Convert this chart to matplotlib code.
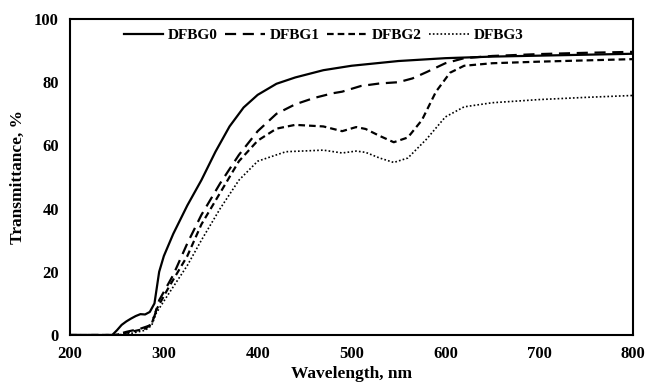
import matplotlib
matplotlib.use("Agg")
import matplotlib.pyplot as plt

# wavelength (nm) and transmittance (%)
wl0 = [200, 245, 250, 255, 260, 265, 270, 275, 280, 285, 290, 295, 300, 310, 325, 340, 355,
       370, 385, 400, 420, 440, 470, 500, 550, 600, 650, 700, 750, 800]
t0 = [0, 0, 1.5, 3.2, 4.3, 5.2, 6.0, 6.6, 6.5, 7.3, 10, 20, 25, 32, 41, 49, 58,
      66, 72, 76, 79.5, 81.5, 83.8, 85.2, 86.7, 87.6, 88.1, 88.4, 88.7, 89.0]

wl1 = [200, 248, 260, 275, 285, 290, 295, 310, 325, 340, 360, 380, 400, 420, 440, 460,
       480, 490, 510, 530, 550, 565, 580, 600, 620, 650, 700, 750, 800]
t1 = [0, 0, 1.0, 2.0, 3.0, 6, 11, 19, 29, 38, 48, 57, 64.5, 70, 73, 75,
      76.5, 77, 78.8, 79.6, 80, 81.2, 83.2, 86, 87.6, 88.3, 88.9, 89.3, 89.6]

wl2 = [200, 248, 265, 280, 287, 292, 305, 325, 340, 360, 380, 400, 420, 440, 470,
       490, 505, 515, 530, 545, 560, 575, 590, 605, 620, 650, 700, 750, 800]
t2 = [0, 0, 1.0, 2.0, 3.5, 8, 15, 25, 35, 45, 55, 61.5, 65.3, 66.5, 66.0,
      64.5, 65.8, 65.2, 63, 61, 62.5, 68, 77, 83, 85.2, 86, 86.5, 86.9, 87.3]

wl3 = [200, 250, 265, 280, 287, 292, 305, 325, 340, 360, 380, 400, 430, 470,
       490, 505, 515, 530, 545, 560, 580, 600, 620, 650, 700, 750, 800]
t3 = [0, 0, 0.5, 1.5, 3, 7, 13, 22, 30, 40, 49, 55, 58, 58.5,
      57.6, 58.2, 57.8, 56, 54.6, 56, 62, 69, 72.2, 73.5, 74.5, 75.2, 75.8]

series_labels = ["DFBG0", "DFBG1", "DFBG2", "DFBG3"]

plt.rcParams["font.family"] = ["Liberation Serif", "DejaVu Serif"]
plt.rcParams["font.weight"] = "bold"

fig = plt.figure(figsize=(6.46, 3.86), dpi=100)
ax = fig.add_axes([0.1084, 0.1321, 0.8715, 0.8187])

ax.plot(wl0, t0, color="black", lw=1.6, ls="-", label=series_labels[0])
ax.plot(wl1, t1, color="black", lw=1.6, ls=(0, (5, 3)), label=series_labels[1])
ax.plot(wl2, t2, color="black", lw=1.6, ls=(0, (3, 1.8)), label=series_labels[2])
ax.plot(wl3, t3, color="black", lw=1.2, ls=(0, (1, 1.3)), label=series_labels[3])

ax.set_xlim(200, 800)
ax.set_ylim(0, 100)
ax.set_xticks(range(200, 801, 100))
ax.set_yticks(range(0, 101, 20))
ax.tick_params(length=0, labelsize=12, pad=8)
for lab in ax.get_xticklabels() + ax.get_yticklabels():
    lab.set_fontweight("bold")
for sp in ax.spines.values():
    sp.set_linewidth(1.5)

ax.set_xlabel("Wavelength, nm", fontsize=12.5, fontweight="bold", labelpad=3)
ax.set_ylabel("Transmittance, %", fontsize=12.5, fontweight="bold", labelpad=6)

leg = ax.legend(loc="upper center", ncol=4, frameon=False, fontsize=11,
                handlelength=2.6, handletextpad=0.3, columnspacing=0.5,
                bbox_to_anchor=(0.45, 1.0), borderaxespad=0.2)
for t in leg.get_texts():
    t.set_fontweight("bold")

fig.savefig("out.png", dpi=100)
